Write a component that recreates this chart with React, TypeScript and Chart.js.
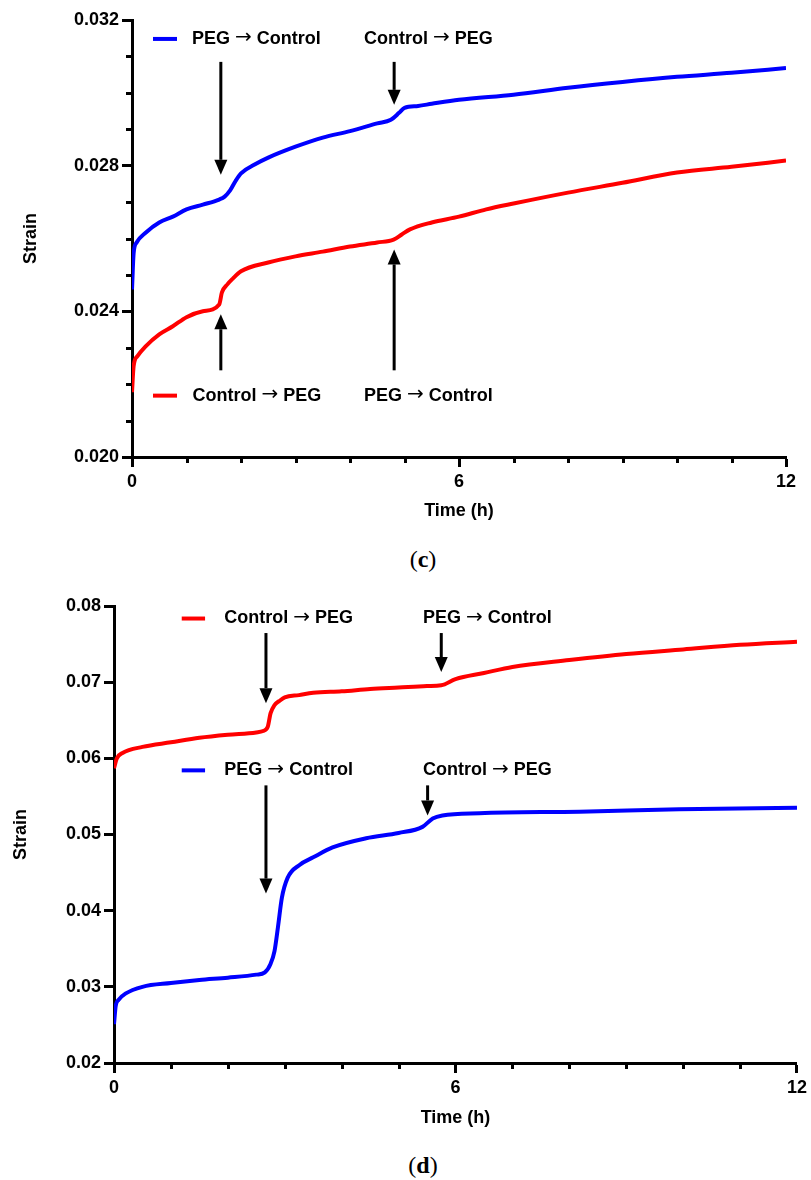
import React, { useEffect, useRef } from "react";
import { Chart, registerables } from "chart.js";

Chart.register(...registerables);

const BLUE = "#0000ff";
const RED = "#ff0000";
const FONT = '"Liberation Sans", Arial, Helvetica, sans-serif';
const ARROW_FONT = '20px "DejaVu Sans", sans-serif';

// ---------- Panel (c) ----------
const timeC_blue = [0, 0.03, 0.085, 0.25, 0.5, 0.75, 1, 1.3, 1.6, 1.7, 1.8, 1.9, 2.0, 2.25, 2.5, 3, 3.5, 4, 4.5, 4.75, 4.9, 5.0, 5.25, 5.5, 6, 7, 8, 9, 10, 11, 12];
const strainC_blue = [0.0246, 0.0256, 0.02589, 0.02616, 0.02644, 0.0266, 0.0268, 0.02693, 0.02707, 0.02715, 0.02732, 0.02758, 0.02779, 0.02803, 0.02822, 0.02852, 0.02877, 0.02895, 0.02916, 0.02926, 0.02945, 0.02959, 0.02964, 0.0297, 0.02981, 0.02995, 0.03014, 0.0303, 0.03044, 0.03055, 0.03068];
const timeC_red = [0, 0.03, 0.1, 0.25, 0.5, 0.75, 1, 1.3, 1.6, 1.65, 1.75, 1.85, 2, 2.5, 3, 3.5, 4, 4.5, 4.8, 4.95, 5.1, 5.5, 6, 6.5, 7, 8, 9, 10, 11, 12];
const strainC_red = [0.02178, 0.0225, 0.02277, 0.02304, 0.02337, 0.02359, 0.02384, 0.024, 0.02419, 0.02452, 0.02474, 0.0249, 0.0251, 0.02534, 0.02551, 0.02564, 0.02578, 0.02589, 0.02597, 0.02611, 0.02625, 0.02644, 0.0266, 0.0268, 0.02696, 0.02726, 0.02753, 0.02781, 0.02797, 0.02814];
const yTicksC = [0.020, 0.021, 0.022, 0.023, 0.024, 0.025, 0.026, 0.027, 0.028, 0.029, 0.030, 0.031, 0.032];
const yLabelsC = ["0.020", "0.024", "0.028", "0.032"];

// ---------- Panel (d) ----------
const timeD_red = [0, 0.05, 0.15, 0.5, 1, 1.5, 2, 2.5, 2.62, 2.7, 2.75, 2.82, 2.9, 3.0, 3.25, 3.5, 4, 4.5, 5, 5.5, 5.75, 6, 6.5, 7, 8, 9, 10, 11, 12];
const strainD_red = [0.0587, 0.06, 0.0607, 0.0615, 0.0621, 0.0627, 0.0631, 0.0634, 0.06359, 0.0641, 0.0659, 0.067, 0.0675, 0.068, 0.0683, 0.0686, 0.0688, 0.0691, 0.0693, 0.0695, 0.0696, 0.0704, 0.0712, 0.072, 0.0729, 0.0737, 0.0743, 0.0749, 0.0753];
const timeD_blue = [0, 0.03, 0.08, 0.2, 0.5, 1, 1.5, 2, 2.5, 2.65, 2.75, 2.82, 2.88, 2.95, 3.05, 3.26, 3.5, 3.84, 4.43, 5.0, 5.42, 5.6, 5.77, 6.42, 8.18, 9.93, 12];
const strainD_blue = [0.0251, 0.0275, 0.0283, 0.0291, 0.03, 0.0305, 0.0309, 0.0312, 0.0316, 0.0319, 0.033, 0.0347, 0.0378, 0.0417, 0.0443, 0.046, 0.047, 0.0483, 0.0495, 0.0502, 0.051, 0.0521, 0.0525, 0.0528, 0.053, 0.0533, 0.0535];
const yTicksD = [0.02, 0.03, 0.04, 0.05, 0.06, 0.07, 0.08];

// ---------- shared x axis ----------
const xTicks = [0, 1, 2, 3, 4, 5, 6, 7, 8, 9, 10, 11, 12];
const xLabels = ["0", "6", "12"];

// ---------- annotations (data coordinates) ----------
const textsC = [
  { t: 2.28, v: 0.03148, text: "PEG \u2192 Control" },
  { t: 5.44, v: 0.03148, text: "Control \u2192 PEG" },
  { t: 2.29, v: 0.021685, text: "Control \u2192 PEG" },
  { t: 5.44, v: 0.021685, text: "PEG \u2192 Control" },
];
const swatchesC = [
  { t0: 0.385, t1: 0.826, v: 0.03148, color: BLUE },
  { t0: 0.385, t1: 0.826, v: 0.021685, color: RED },
];
const arrowsC = [
  { t: 1.63, from: 0.03085, to: 0.02775 },
  { t: 4.81, from: 0.03085, to: 0.02967 },
  { t: 1.63, from: 0.02238, to: 0.02392 },
  { t: 4.81, from: 0.02238, to: 0.0257 },
];
const textsD = [
  { t: 3.07, v: 0.078355, text: "Control \u2192 PEG" },
  { t: 6.56, v: 0.078355, text: "PEG \u2192 Control" },
  { t: 3.07, v: 0.05842, text: "PEG \u2192 Control" },
  { t: 6.56, v: 0.05842, text: "Control \u2192 PEG" },
];
const swatchesD = [
  { t0: 1.19, t1: 1.6, v: 0.078355, color: RED },
  { t0: 1.19, t1: 1.6, v: 0.05842, color: BLUE },
];
const arrowsD = [
  { t: 2.67, from: 0.07645, to: 0.06724 },
  { t: 5.75, from: 0.07645, to: 0.07132 },
  { t: 2.67, from: 0.05645, to: 0.04224 },
  { t: 5.51, from: 0.05645, to: 0.0525 },
];

type Panel = {
  series: { t: number[]; v: number[]; color: string }[];
  yMin: number;
  yMax: number;
  yTicks: number[];
  yLabel: (v: number) => string;
  yMajor: (v: number) => boolean;
  yWidth: number;
  xHeight: number;
  padTop: number;
  padRight: number;
  yTitlePad: number;
  xTitlePad: number;
  texts: { t: number; v: number; text: string }[];
  swatches: { t0: number; t1: number; v: number; color: string }[];
  arrows: { t: number; from: number; to: number }[];
};

function drawMixedText(ctx: CanvasRenderingContext2D, text: string, cx: number, cy: number) {
  const textFont = `bold 18px ${FONT}`;
  const parts = text.split("\u2192");
  const segs: { s: string; font: string }[] = [];
  parts.forEach((p, i) => {
    if (i > 0) segs.push({ s: "\u2192", font: ARROW_FONT });
    segs.push({ s: p, font: textFont });
  });
  let total = 0;
  const widths = segs.map((sg) => {
    ctx.font = sg.font;
    const w = ctx.measureText(sg.s).width;
    total += w;
    return w;
  });
  let x = cx - total / 2;
  ctx.textAlign = "left";
  ctx.textBaseline = "middle";
  segs.forEach((sg, i) => {
    ctx.font = sg.font;
    ctx.fillText(sg.s, x, sg.font === ARROW_FONT ? cy - 1 : cy);
    x += widths[i];
  });
}

function makeDecor(p: Panel) {
  return {
    id: "decor",
    afterDraw(chart: any) {
      const { ctx, chartArea: area } = chart;
      const x = chart.scales.x;
      const y = chart.scales.y;
      ctx.save();
      ctx.strokeStyle = "#000";
      ctx.fillStyle = "#000";
      ctx.lineWidth = 3;
      ctx.lineCap = "butt";
      xTicks.forEach((t) => {
        if (xLabels.includes(String(t))) return;
        const px = Math.round(x.getPixelForValue(t)) + 0.5;
        ctx.beginPath();
        ctx.moveTo(px, area.bottom);
        ctx.lineTo(px, area.bottom + 6);
        ctx.stroke();
      });
      p.yTicks.forEach((v) => {
        if (p.yMajor(v)) return;
        const py = Math.round(y.getPixelForValue(v)) + 0.5;
        ctx.beginPath();
        ctx.moveTo(area.left - 6, py);
        ctx.lineTo(area.left, py);
        ctx.stroke();
      });
      p.swatches.forEach((s) => {
        ctx.save();
        ctx.strokeStyle = s.color;
        ctx.lineWidth = 4;
        const py = y.getPixelForValue(s.v);
        ctx.beginPath();
        ctx.moveTo(x.getPixelForValue(s.t0), py);
        ctx.lineTo(x.getPixelForValue(s.t1), py);
        ctx.stroke();
        ctx.restore();
      });
      p.texts.forEach((tx) => {
        drawMixedText(ctx, tx.text, x.getPixelForValue(tx.t), y.getPixelForValue(tx.v));
      });
      p.arrows.forEach((a) => {
        const px = x.getPixelForValue(a.t);
        const y0 = y.getPixelForValue(a.from);
        const y1 = y.getPixelForValue(a.to);
        const dir = Math.sign(y1 - y0);
        const head = 15;
        const hw = 6.5;
        ctx.beginPath();
        ctx.moveTo(px, y0);
        ctx.lineTo(px, y1 - dir * head);
        ctx.stroke();
        ctx.beginPath();
        ctx.moveTo(px, y1);
        ctx.lineTo(px - hw, y1 - dir * head);
        ctx.lineTo(px + hw, y1 - dir * head);
        ctx.closePath();
        ctx.fill();
      });
      ctx.restore();
    },
  };
}

function buildChart(canvas: HTMLCanvasElement, p: Panel) {
  const tickFont = { size: 18, weight: "bold" as const, family: FONT };
  return new Chart(canvas, {
    type: "line",
    data: {
      datasets: p.series.map((s) => ({
        data: s.t.map((t, i) => ({ x: t, y: s.v[i] })),
        borderColor: s.color,
        backgroundColor: s.color,
        borderWidth: 4,
        pointRadius: 0,
        fill: false,
        cubicInterpolationMode: "monotone" as const,
      })),
    },
    options: {
      responsive: false,
      animation: false,
      devicePixelRatio: 1,
      layout: { padding: { left: 0, right: p.padRight, top: p.padTop, bottom: 0 } },
      plugins: { legend: { display: false }, tooltip: { enabled: false } },
      scales: {
        x: {
          type: "linear",
          min: 0,
          max: 12,
          afterBuildTicks: (s: any) => {
            s.ticks = xTicks.map((v) => ({ value: v }));
          },
          afterFit: (s: any) => {
            s.height = p.xHeight;
          },
          ticks: {
            autoSkip: false,
            maxRotation: 0,
            padding: 4,
            color: "#000",
            font: tickFont,
            callback: (v: any) => (xLabels.includes(String(v)) ? String(v) : ""),
          },
          grid: {
            display: true,
            drawOnChartArea: false,
            drawTicks: true,
            tickLength: 10,
            tickWidth: 3,
            tickColor: (ctx: any) =>
              ctx.tick && xLabels.includes(String(ctx.tick.value)) ? "#000" : "rgba(0,0,0,0)",
          },
          border: { display: true, color: "#000", width: 3 },
          title: {
            display: true,
            text: "Time (h)",
            color: "#000",
            font: tickFont,
            padding: { top: 0, bottom: p.xTitlePad },
          },
        },
        y: {
          type: "linear",
          min: p.yMin,
          max: p.yMax,
          afterBuildTicks: (s: any) => {
            s.ticks = p.yTicks.map((v) => ({ value: v }));
          },
          afterFit: (s: any) => {
            s.width = p.yWidth;
          },
          ticks: {
            autoSkip: false,
            padding: 3,
            color: "#000",
            font: tickFont,
            callback: (v: any) => (p.yMajor(v) ? p.yLabel(v) : ""),
          },
          grid: {
            display: true,
            drawOnChartArea: false,
            drawTicks: true,
            tickLength: 10,
            tickWidth: 3,
            tickColor: (ctx: any) => (ctx.tick && p.yMajor(ctx.tick.value) ? "#000" : "rgba(0,0,0,0)"),
          },
          border: { display: true, color: "#000", width: 3 },
          title: {
            display: true,
            text: "Strain",
            color: "#000",
            font: tickFont,
            padding: { top: p.yTitlePad, bottom: 0 },
          },
        },
      },
    },
    plugins: [makeDecor(p)],
  } as any);
}

const panelC: Panel = {
  series: [
    { t: timeC_blue, v: strainC_blue, color: BLUE },
    { t: timeC_red, v: strainC_red, color: RED },
  ],
  yMin: 0.02,
  yMax: 0.032,
  yTicks: yTicksC,
  yLabel: (v) => v.toFixed(3),
  yMajor: (v) => yLabelsC.includes(Number(v).toFixed(3)),
  yWidth: 132,
  xHeight: 73,
  padTop: 20,
  padRight: 25,
  yTitlePad: 20,
  xTitlePad: 8,
  texts: textsC,
  swatches: swatchesC,
  arrows: arrowsC,
};

const panelD: Panel = {
  series: [
    { t: timeD_red, v: strainD_red, color: RED },
    { t: timeD_blue, v: strainD_blue, color: BLUE },
  ],
  yMin: 0.02,
  yMax: 0.08,
  yTicks: yTicksD,
  yLabel: (v) => v.toFixed(2),
  yMajor: () => true,
  yWidth: 114,
  xHeight: 77,
  padTop: 26,
  padRight: 13,
  yTitlePad: 10,
  xTitlePad: 11,
  texts: textsD,
  swatches: swatchesD,
  arrows: arrowsD,
};

export default function App() {
  const refC = useRef<HTMLCanvasElement>(null);
  const refD = useRef<HTMLCanvasElement>(null);

  useEffect(() => {
    const c1 = buildChart(refC.current!, panelC);
    const c2 = buildChart(refD.current!, panelD);
    return () => {
      c1.destroy();
      c2.destroy();
    };
  }, []);

  const caption: React.CSSProperties = {
    position: "absolute",
    left: 423,
    transform: "translateX(-50%)",
    fontFamily: '"Liberation Serif", "Times New Roman", serif',
    fontSize: 24,
    lineHeight: "24px",
    color: "#000",
    whiteSpace: "nowrap",
  };

  return (
    <div style={{ position: "absolute", left: 0, top: 0, width: 811, height: 1180, background: "#fff" }}>
      <canvas ref={refC} width={811} height={530} style={{ position: "absolute", left: 0, top: 0 }} />
      <div style={{ ...caption, top: 547 }}>
        (<b>c</b>)
      </div>
      <canvas ref={refD} width={811} height={560} style={{ position: "absolute", left: 0, top: 580 }} />
      <div style={{ ...caption, top: 1153 }}>
        (<b>d</b>)
      </div>
    </div>
  );
}
